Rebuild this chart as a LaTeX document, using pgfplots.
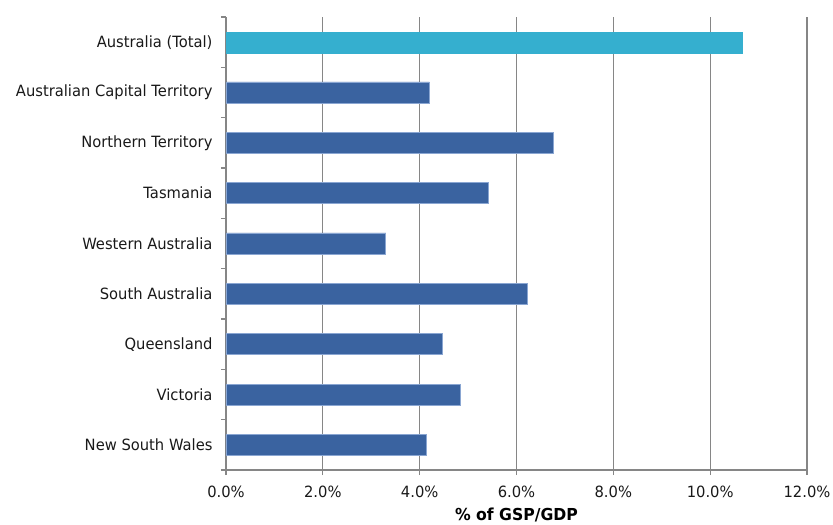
\documentclass[border=0pt]{standalone}
\usepackage{fontspec}
\setmainfont{DejaVu Sans}[FakeStretch=0.95]
\usepackage{pgfplots}
\pgfplotsset{compat=1.18}
\definecolor{barblue}{HTML}{3A63A0}
\definecolor{barcyan}{HTML}{35AFCF}
\definecolor{edgeblue}{HTML}{8AA6D2}
\definecolor{gridgray}{HTML}{868686}
\begin{document}
\begin{tikzpicture}
\begin{axis}[
  scale only axis,
  width=581bp, height=453bp,
  xbar,
  bar width=21bp,
  xmin=0, xmax=12,
  ymin=-0.5, ymax=8.5,
  xtick={0,2,...,12},
  xticklabel={\pgfmathprintnumber[fixed,fixed zerofill,precision=1]{\tick}\%},
  /pgf/number format/assume math mode=true,
  ytick={0,...,8},
  yticklabels={New South Wales,Victoria,Queensland,South Australia,Western Australia,Tasmania,Northern Territory,Australian Capital Territory,Australia (Total)},
  minor ytick={-0.5,0.5,...,8.5},
  major tick length=5bp,
  minor tick length=5bp,
  tick align=outside,
  major x tick style={draw=gridgray, line width=1.2pt},
  major y tick style={draw=none},
  minor y tick style={draw=gridgray, line width=1.2pt},
  xmajorgrids,
  grid style={draw=gridgray, line width=1.2pt},
  axis lines*=left,
  axis line style={draw=gridgray, line width=1.3pt},
  tick label style={font=\fontsize{15.5bp}{18bp}\selectfont, text=black!90},
  yticklabel style={xshift=-5bp},
  xticklabel style={yshift=-7bp},
  xlabel={\bfseries \% of GSP/GDP},
  xlabel style={font=\fontsize{16.5bp}{19bp}\selectfont\bfseries, at={(axis description cs:0.5,0)}, anchor=base, yshift=-50bp},
  clip=false,
]
\addplot[fill=barblue, draw=edgeblue, line width=0.6pt, bar shift=0pt] coordinates {
  (4.13,0) (4.84,1) (4.46,2) (6.23,3) (3.30,4) (5.42,5) (6.76,6) (4.20,7)
};
\addplot[fill=barcyan, draw=barcyan, line width=0.3pt, bar shift=0pt] coordinates {
  (10.66,8)
};
\end{axis}
\pgfresetboundingbox
\path (current axis.south west)++(-226bp,-55bp) coordinate (bl);
\path (current axis.north east)++(26bp,17bp) coordinate (tr);
\path[use as bounding box] (bl) rectangle (tr);
\end{tikzpicture}
\end{document}
